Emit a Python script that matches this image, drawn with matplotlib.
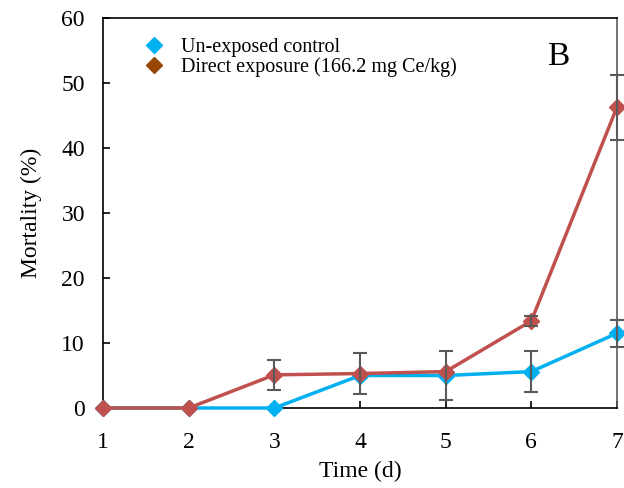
import matplotlib.pyplot as plt
from matplotlib.lines import Line2D

plt.rcParams['font.family'] = ['Liberation Serif', 'DejaVu Serif']

days = [1, 2, 3, 4, 5, 6, 7]

# Un-exposed control
control = [0, 0, 0, 5.0, 5.0, 5.6, 11.5]
control_err = [0, 0, 0, 0, 3.7, 3.2, 2.1]

# Direct exposure (166.2 mg Ce/kg)
direct = [0, 0, 5.1, 5.3, 5.6, 13.4, 46.3]
direct_err = [0, 0, 2.35, 3.2, 0, 0.8, 5.0]

blue = '#00B0F0'
red = '#C0504D'
err_col = '#5a5a5a'

fig = plt.figure(figsize=(6.24, 4.88), dpi=100)
ax = fig.add_axes([103 / 624, 1 - 408 / 488, 514 / 624, 390 / 488])

ax.plot(days, control, color=blue, lw=2.5, marker='D', ms=8.5, zorder=3, clip_on=False)
ax.plot(days, direct, color=red, lw=2.5, marker='D', ms=8.5, zorder=4, clip_on=False)

# error bars only where they are drawn in the figure
cx = [d for d, e in zip(days, control_err) if e > 0]
cy = [v for v, e in zip(control, control_err) if e > 0]
ce = [e for e in control_err if e > 0]
ax.errorbar(cx, cy, yerr=ce, fmt='none', ecolor=err_col, elinewidth=1.5,
            capsize=5, capthick=1.5, zorder=5, clip_on=False)
dx = [d for d, e in zip(days, direct_err) if e > 0]
dy = [v for v, e in zip(direct, direct_err) if e > 0]
de = [e for e in direct_err if e > 0]
ax.errorbar(dx, dy, yerr=de, fmt='none', ecolor=err_col, elinewidth=1.5,
            capsize=5, capthick=1.5, zorder=5, clip_on=False)

ax.set_xlim(1, 7)
ax.set_ylim(0, 60)
ax.set_xticks(days)
ax.set_yticks(range(0, 61, 10))
ax.tick_params(direction='in', length=5, width=1.2, labelsize=17)
ax.tick_params(axis='y', pad=13)
ax.tick_params(axis='x', pad=17)
for s in ax.spines.values():
    s.set_linewidth(1.2)
ax.spines['right'].set_color(err_col)

ax.set_xlabel('Time (d)', fontsize=17, labelpad=6)
ax.set_ylabel('Mortality (%)', fontsize=17, labelpad=14)

ax.text(0.885, 0.9, 'B', transform=ax.transAxes, fontsize=24, ha='center', va='center')

handles = [
    Line2D([], [], ls='none', marker='D', ms=8, color=blue),
    Line2D([], [], ls='none', marker='D', ms=8, color='#974706'),
]
ax.legend(handles, ['Un-exposed control', 'Direct exposure (166.2 mg Ce/kg)'],
          loc='upper left', bbox_to_anchor=(0.045, 0.995), frameon=False,
          fontsize=14.5, handlelength=1.0, handletextpad=0.8, labelspacing=0.0)

fig.savefig('out.png', dpi=100)
